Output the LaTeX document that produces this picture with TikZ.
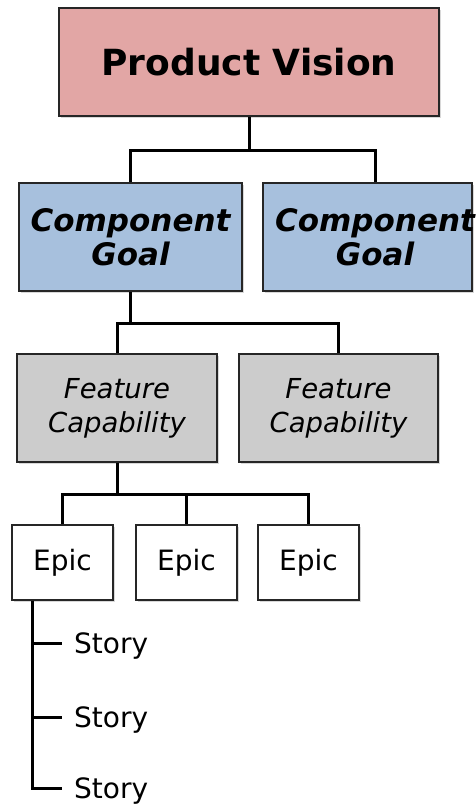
\documentclass[tikz,border=0pt]{standalone}
\usepackage{fontspec}
\setmainfont{DejaVu Sans}
\usetikzlibrary{shadows,calc}
\definecolor{pvfill}{RGB}{226,166,165}
\definecolor{goalfill}{RGB}{167,192,221}
\definecolor{featfill}{RGB}{204,204,204}
\begin{document}
\begin{tikzpicture}[x=1pt,y=-1pt,
  box/.style={draw=black!85, line width=1.9pt, inner sep=0pt, align=center,
    drop shadow={shadow xshift=1.5pt, shadow yshift=-1.5pt, opacity=0.3}},
  pvbox/.style={box, fill=pvfill, minimum width=380pt, minimum height=108pt,
    font=\fontsize{36}{40}\selectfont\bfseries},
  goalbox/.style={box, fill=goalfill, minimum width=223pt, minimum height=108pt,
    font=\fontsize{31}{34}\selectfont\bfseries\itshape},
  goaltext/.style={inner sep=0pt, align=center, font=\fontsize{31}{34}\selectfont\bfseries\itshape},
  featbox/.style={box, fill=featfill, minimum width=200pt, minimum height=108pt,
    font=\fontsize{27.5}{34}\selectfont\itshape},
  epicbox/.style={box, fill=white, minimum width=101pt, minimum height=75pt,
    font=\fontsize{28}{32}\selectfont},
  story/.style={anchor=west, inner ysep=0pt, inner xsep=12pt, text height=20pt, text depth=0pt,
    font=\fontsize{28}{32}\selectfont},
  conn/.style={draw=black, line width=3pt}]
\useasboundingbox (0,0) rectangle (475,806);
\clip (0,0) rectangle (475,806);
\fill[white] (0,0) rectangle (475,806);

% boxes
\node[pvbox] (pv) at (249,62) {Product Vision};
\node[goalbox] (g1) at (130.5,237) {Component\\Goal};
\node[goalbox, minimum width=209pt] (g2) at (367.5,237) {};
\node[goaltext] (g2t) at (375,237) {Component\\Goal};
\node[featbox] (f1) at (117,408) {Feature\\Capability};
\node[featbox, minimum width=199pt] (f2) at (338.5,408) {Feature\\Capability};
\node[epicbox] (e1) at (62.5,562.5) {Epic};
\node[epicbox] (e2) at (186.5,562.5) {Epic};
\node[epicbox] (e3) at (308.5,562.5) {Epic};
\node[story] (s1) at (62,643) {Story};
\node[story] (s2) at (62,717) {Story};
\node[story] (s3) at (62,788) {Story};

% junctions
\coordinate (j1) at (249,150);
\coordinate (j2) at (130.5,323);
\coordinate (j3) at (117,494);
\coordinate (st) at ($(e1.south west)+(21,0)$);

% connectors
\draw[conn] (pv.south) -- (j1);
\draw[conn] (g1.north) -- (g1.north |- j1) -- (g2t |- j1) -- (g2t |- g2.north);
\draw[conn] (g1.south) -- (j2);
\draw[conn] (f1.north) -- (f1.north |- j2) -- (f2.north |- j2) -- (f2.north);
\draw[conn] (f1.south) -- (j3);
\draw[conn] (e1.north) -- (e1.north |- j3) -- (e3.north |- j3) -- (e3.north);
\draw[conn] (e2.north) -- (e2.north |- j3);
\draw[conn] (st) |- (s3.west);
\draw[conn] (st |- s1.west) -- (s1.west);
\draw[conn] (st |- s2.west) -- (s2.west);
\end{tikzpicture}
\end{document}
